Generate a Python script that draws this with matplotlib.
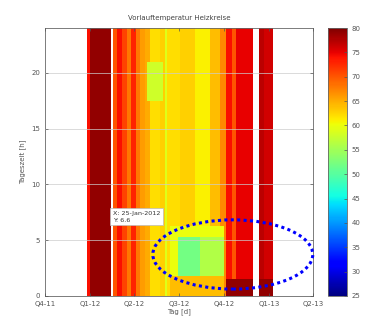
import numpy as np
import matplotlib
matplotlib.use("Agg")
import matplotlib.pyplot as plt
from matplotlib.patches import Ellipse

# ---- data (days since 01-Oct-2011, hours of day, temperature degC) ----
quarter_labels = ["Q4-11", "Q1-12", "Q2-12", "Q3-12", "Q4-12", "Q1-13", "Q2-13"]
quarter_days = [0, 92, 183, 274, 366, 458, 548]

seg_start = [86, 93, 139, 147, 157, 168, 176, 186, 194, 204, 215, 235, 245, 250, 276, 307, 337, 358, 370, 383, 391, 438, 448]
seg_end   = [93, 135, 147, 157, 168, 176, 186, 194, 204, 215, 235, 245, 250, 276, 307, 337, 358, 370, 383, 391, 425, 448, 466]
seg_value = [74, 79, 70, 74, 71, 68, 73, 68, 66, 65, 62, 63, 59, 62, 63, 61, 64, 67, 74, 70, 75, 77, 76]

patch_d0 = [209, 255, 255, 272, 317, 370, 438]
patch_d1 = [241, 366, 366, 317, 366, 425, 466]
patch_h0 = [17.5, 0.0, 0.0, 1.7, 1.7, 0.0, 0.0]
patch_h1 = [21.1, 6.3, 1.7, 5.3, 5.3, 1.5, 1.5]
patch_val = [58, 60, 64, 52, 56, 79, 79]

cbar_ticks = [25, 30, 35, 40, 45, 50, 55, 60, 65, 70, 75, 80]
hour_ticks = [0, 5, 10, 15, 20]
tip_text = "X: 25-Jan-2012\nY: 6.6"

# ---- build grid ----
day_edges = np.arange(0, 549, 1)
hour_edges = np.arange(0, 24.01, 0.25)
dc = day_edges[:-1] + 0.5
hc = hour_edges[:-1] + 0.125
Z = np.full((len(hc), len(dc)), np.nan)
for s, e, v in zip(seg_start, seg_end, seg_value):
    Z[:, (dc >= s) & (dc < e)] = v
for d0, d1, h0, h1, v in zip(patch_d0, patch_d1, patch_h0, patch_h1, patch_val):
    m = ((dc >= d0) & (dc < d1))[None, :] & ((hc >= h0) & (hc < h1))[:, None]
    Z[m] = v
Z = np.ma.masked_invalid(Z)

# ---- figure ----
fig = plt.figure(figsize=(3.65, 3.28), dpi=100)
ax = fig.add_axes([45/365, 32/328, 268/365, 268/328])
cax = fig.add_axes([328/365, 32/328, 19/365, 268/328])

mesh = ax.pcolormesh(day_edges, hour_edges, Z, cmap="jet", vmin=25, vmax=80, shading="flat")
ax.set_xlim(0, 548)
ax.set_ylim(0, 24)
ax.set_xticks(quarter_days)
ax.set_xticklabels(quarter_labels)
ax.set_yticks(hour_ticks)
tc = "#555555"
ax.tick_params(labelsize=5, colors=tc, direction="in", length=2, top=True, right=True, width=0.5)
ax.grid(axis="y", color="#cccccc", linewidth=0.5)
ax.set_axisbelow(False)
for sp in ax.spines.values():
    sp.set_color("#666666")
    sp.set_linewidth(0.6)
ax.set_title("Vorlauftemperatur Heizkreise", fontsize=5, color="#444444", pad=6)
ax.set_xlabel("Tag [d]", fontsize=5, color=tc, labelpad=1)
ax.set_ylabel("Tageszeit [h]", fontsize=5, color=tc, labelpad=4)

cb = fig.colorbar(mesh, cax=cax, ticks=cbar_ticks)
cb.ax.tick_params(labelsize=5, colors=tc, direction="in", length=2, width=0.5)
cb.outline.set_edgecolor("#666666")
cb.outline.set_linewidth(0.6)

ax.text(139, 7.1, tip_text, fontsize=4.6, color="#333333", va="center", ha="left",
        linespacing=1.5,
        bbox=dict(boxstyle="square,pad=0.4", facecolor="white", edgecolor="#bbbbbb", linewidth=0.5))

ell = Ellipse((384, 3.72), 327, 6.2, fill=False, edgecolor="#0000ff", linewidth=2.2,
              linestyle=(0, (1, 1.1)), clip_on=False, zorder=5)
ell.set_capstyle("butt")
ax.add_patch(ell)

fig.savefig("out.png", dpi=100)
